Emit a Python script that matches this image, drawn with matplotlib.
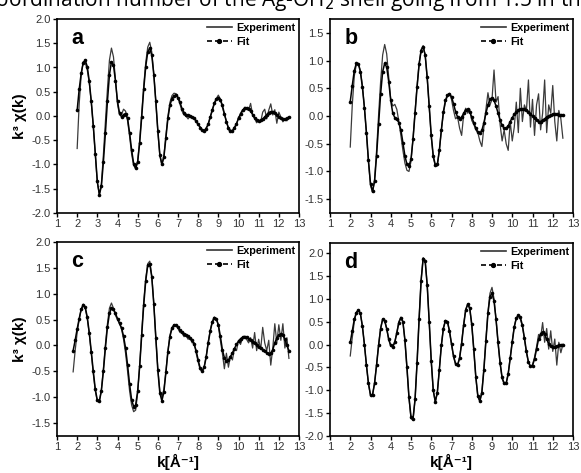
import numpy as np
import matplotlib
matplotlib.use('Agg')
import matplotlib.pyplot as plt
from matplotlib.lines import Line2D

plt.rcParams['font.family'] = ['Liberation Sans', 'DejaVu Sans']
plt.rcParams['axes.unicode_minus'] = False

# ---------------- data (k step 0.1) ----------------
K_STEP = 0.1

a_kstart = 2.0
a_fit = [0.12, 0.55, 0.88, 1.10, 1.15, 1.02, 0.72, 0.30, -0.20, -0.78,
         -1.35, -1.62, -1.45, -0.95, -0.35, 0.30, 0.85, 1.12, 1.05, 0.72,
         0.30, 0.06, -0.02, 0.03, 0.05, -0.05, -0.35, -0.70, -0.98, -1.08,
         -0.95, -0.55, -0.02, 0.55, 1.02, 1.32, 1.40, 1.25, 0.85, 0.30,
         -0.30, -0.80, -1.00, -0.85, -0.45, -0.05, 0.22, 0.36, 0.42, 0.43,
         0.38, 0.28, 0.15, 0.07, 0.03, 0.02, 0.00, -0.02, -0.05, -0.10,
         -0.17, -0.24, -0.29, -0.30, -0.26, -0.16, -0.02, 0.13, 0.26, 0.35,
         0.38, 0.34, 0.22, 0.05, -0.12, -0.24, -0.30, -0.30, -0.25, -0.16,
         -0.05, 0.05, 0.12, 0.16, 0.17, 0.15, 0.10, 0.03, -0.04, -0.08,
         -0.10, -0.09, -0.06, -0.02, 0.03, 0.07, 0.09, 0.09, 0.06, 0.02,
         -0.02, -0.05, -0.07, -0.07, -0.05, -0.03]
a_exp = [-0.67, 0.25, 0.85, 1.12, 1.10, 0.95, 0.68, 0.28, -0.22, -0.80,
         -1.38, -1.62, -1.40, -0.80, -0.12, 0.55, 1.15, 1.40, 1.22, 0.75,
         0.25, 0.02, 0.03, 0.14, 0.10, -0.10, -0.42, -0.78, -1.02, -1.08,
         -0.92, -0.50, 0.05, 0.62, 1.10, 1.42, 1.52, 1.32, 0.88, 0.30,
         -0.32, -0.82, -1.00, -0.82, -0.40, 0.00, 0.28, 0.42, 0.47, 0.46,
         0.38, 0.24, 0.10, 0.02, 0.00, -0.06, 0.01, -0.02, -0.04, -0.12,
         -0.18, -0.22, -0.30, -0.31, -0.24, -0.18, -0.02, 0.10, 0.26, 0.36,
         0.43, 0.35, 0.18, 0.03, -0.10, -0.28, -0.33, -0.32, -0.22, -0.18,
         -0.02, 0.00, 0.10, 0.18, 0.14, 0.12, 0.26, 0.02, -0.05, -0.14,
         -0.08, -0.12, 0.08, 0.14, -0.06, 0.12, 0.25, 0.02, 0.13, -0.15,
         0.08, -0.02, -0.12, -0.06, -0.10, -0.02]

b_kstart = 2.0
b_fit = [0.26, 0.55, 0.82, 0.95, 0.94, 0.80, 0.52, 0.15, -0.30, -0.80,
         -1.22, -1.36, -1.18, -0.72, -0.15, 0.40, 0.80, 0.95, 0.88, 0.62,
         0.28, 0.05, -0.03, -0.06, -0.12, -0.25, -0.48, -0.72, -0.87, -0.90,
         -0.78, -0.42, 0.05, 0.52, 0.93, 1.18, 1.25, 1.10, 0.70, 0.18,
         -0.35, -0.72, -0.88, -0.87, -0.62, -0.25, 0.08, 0.28, 0.38, 0.40,
         0.35, 0.22, 0.08, -0.02, -0.05, -0.02, 0.05, 0.11, 0.12, 0.07,
         -0.02, -0.12, -0.22, -0.29, -0.31, -0.26, -0.12, 0.05, 0.20, 0.30,
         0.32, 0.28, 0.18, 0.05, -0.08, -0.17, -0.22, -0.22, -0.18, -0.10,
         -0.03, 0.03, 0.07, 0.10, 0.12, 0.12, 0.12, 0.11, 0.08, 0.04,
         0.00, -0.04, -0.08, -0.10, -0.10, -0.08, -0.05, -0.02, 0.00, 0.02,
         0.03, 0.03, 0.03, 0.02, 0.02, 0.02]
b_exp = [-0.56, 0.20, 0.72, 0.93, 0.95, 0.82, 0.55, 0.15, -0.32, -0.85,
         -1.25, -1.38, -1.15, -0.62, 0.02, 0.62, 1.10, 1.29, 1.12, 0.70,
         0.30, 0.18, 0.21, 0.12, -0.10, -0.35, -0.62, -0.85, -0.98, -1.00,
         -0.82, -0.40, 0.08, 0.55, 0.95, 1.20, 1.27, 1.10, 0.68, 0.15,
         -0.38, -0.75, -0.90, -0.90, -0.62, -0.25, 0.05, 0.25, 0.36, 0.41,
         0.30, 0.10, -0.05, -0.02, -0.22, -0.35, 0.02, 0.14, 0.05, 0.12,
         -0.08, -0.15, -0.25, -0.30, -0.45, -0.55, -0.20, 0.12, 0.42, 0.20,
         0.30, 0.83, 0.25, 0.35, -0.15, -0.45, -0.25, -0.50, -0.62, -0.10,
         -0.45, -0.20, 0.25, -0.30, 0.50, -0.10, 0.20, 0.10, 0.65, -0.20,
         0.30, -0.35, 0.20, 0.40, -0.25, 0.05, 0.65, -0.30, 0.20, 0.05,
         0.55, -0.10, -0.45, 0.10, -0.05, -0.40]

c_kstart = 1.8
c_fit = [-0.10, 0.10,
         0.32, 0.52, 0.70, 0.78, 0.74, 0.55, 0.25, -0.12, -0.50, -0.85,
         -1.06, -1.08, -0.88, -0.50, -0.05, 0.35, 0.62, 0.72, 0.70, 0.62,
         0.52, 0.43, 0.34, 0.18, -0.05, -0.38, -0.75, -1.05, -1.18, -1.15,
         -0.88, -0.40, 0.20, 0.78, 1.25, 1.55, 1.58, 1.32, 0.80, 0.15,
         -0.48, -0.92, -1.07, -0.90, -0.52, -0.12, 0.17, 0.33, 0.39, 0.39,
         0.35, 0.30, 0.26, 0.23, 0.21, 0.18, 0.15, 0.10, 0.02, -0.10,
         -0.28, -0.44, -0.49, -0.42, -0.22, 0.05, 0.28, 0.45, 0.53, 0.52,
         0.40, 0.18, -0.08, -0.24, -0.30, -0.28, -0.22, -0.14, -0.06, 0.02,
         0.08, 0.13, 0.16, 0.17, 0.16, 0.13, 0.10, 0.07, 0.04, 0.01,
         -0.02, -0.05, -0.08, -0.11, -0.14, -0.16, -0.15, -0.08, 0.05, 0.15,
         0.20, 0.22, 0.20, 0.12, 0.00, -0.10]
c_exp = [-0.51, -0.10,
         0.25, 0.50, 0.70, 0.80, 0.72, 0.52, 0.22, -0.15, -0.55, -0.88,
         -1.08, -1.08, -0.85, -0.45, 0.02, 0.42, 0.72, 0.82, 0.72, 0.58,
         0.50, 0.42, 0.32, 0.12, -0.15, -0.50, -0.88, -1.15, -1.28, -1.25,
         -0.92, -0.38, 0.25, 0.85, 1.30, 1.58, 1.63, 1.35, 0.82, 0.15,
         -0.45, -0.88, -1.00, -0.85, -0.50, -0.10, 0.20, 0.35, 0.40, 0.40,
         0.33, 0.25, 0.24, 0.17, 0.19, 0.12, 0.15, 0.05, 0.06, -0.15,
         -0.32, -0.47, -0.50, -0.40, -0.20, 0.08, 0.30, 0.47, 0.55, 0.52,
         0.38, 0.10, -0.15, -0.45, -0.15, -0.42, -0.20, -0.28, -0.05, -0.10,
         0.10, 0.02, 0.15, 0.18, 0.12, 0.05, 0.15, -0.05, 0.25, -0.10,
         0.12, -0.08, 0.35, 0.05, -0.10, 0.10, -0.38, -0.05, 0.42, 0.05,
         0.40, 0.10, 0.42, -0.05, 0.15, -0.25]

d_kstart = 2.0
d_fit = [0.05, 0.30, 0.55, 0.70, 0.75, 0.68, 0.40, 0.00, -0.45, -0.85,
         -1.10, -1.10, -0.85, -0.45, -0.02, 0.35, 0.55, 0.52, 0.35, 0.12,
         -0.02, -0.05, 0.05, 0.25, 0.48, 0.58, 0.50, 0.10, -0.50, -1.15,
         -1.58, -1.62, -1.20, -0.40, 0.55, 1.40, 1.88, 1.82, 1.30, 0.50,
         -0.35, -1.00, -1.25, -1.05, -0.55, -0.02, 0.35, 0.52, 0.50, 0.30,
         0.02, -0.25, -0.42, -0.45, -0.30, 0.02, 0.42, 0.75, 0.88, 0.80,
         0.45, -0.10, -0.70, -1.12, -1.24, -1.05, -0.55, 0.08, 0.68, 1.05,
         1.12, 0.95, 0.55, 0.05, -0.40, -0.72, -0.85, -0.85, -0.65, -0.30,
         0.05, 0.38, 0.58, 0.64, 0.60, 0.42, 0.15, -0.15, -0.38, -0.48,
         -0.46, -0.32, -0.10, 0.12, 0.24, 0.27, 0.22, 0.12, 0.02, -0.04,
         -0.06, -0.05, -0.03, -0.02, -0.01, 0.00]
d_exp = [-0.25, 0.15, 0.50, 0.70, 0.76, 0.68, 0.40, 0.00, -0.46, -0.87,
         -1.12, -1.10, -0.84, -0.43, 0.00, 0.36, 0.56, 0.52, 0.34, 0.10,
         -0.04, -0.05, 0.06, 0.27, 0.50, 0.60, 0.50, 0.08, -0.52, -1.18,
         -1.62, -1.65, -1.20, -0.38, 0.58, 1.42, 1.90, 1.84, 1.30, 0.48,
         -0.38, -1.02, -1.26, -1.05, -0.54, 0.00, 0.37, 0.53, 0.50, 0.28,
         0.00, -0.27, -0.43, -0.45, -0.28, 0.05, 0.45, 0.77, 0.88, 0.78,
         0.42, -0.12, -0.72, -1.14, -1.24, -1.02, -0.52, 0.12, 0.72, 1.12,
         1.25, 1.00, 0.55, 0.02, -0.42, -0.75, -0.86, -0.84, -0.62, -0.28,
         0.08, 0.40, 0.58, 0.62, 0.55, 0.40, 0.12, -0.18, -0.40, -0.48,
         -0.44, -0.28, -0.05, 0.22, 0.15, 0.48, 0.05, 0.35, -0.10, 0.30,
         -0.15, 0.12, -0.45, 0.05, -0.18, 0.00]

panel_letters = ['a', 'b', 'c', 'd']
x_ticks = list(range(1, 14))
y_ticks = {
    'a': [-2.0, -1.5, -1.0, -0.5, 0.0, 0.5, 1.0, 1.5, 2.0],
    'b': [-1.5, -1.0, -0.5, 0.0, 0.5, 1.0, 1.5],
    'c': [-1.5, -1.0, -0.5, 0.0, 0.5, 1.0, 1.5, 2.0],
    'd': [-2.0, -1.5, -1.0, -0.5, 0.0, 0.5, 1.0, 1.5, 2.0],
}
y_lims = {'a': (-2.0, 2.0), 'b': (-1.75, 1.75), 'c': (-1.75, 2.0), 'd': (-2.0, 2.22)}
legend_labels = ['Experiment', 'Fit']
title_text = 'coordination number of the Ag-OH$_2$ shell going from 1.5 in the'
ylabel_text = 'k³ χ(k)'
xlabel_text = 'k[Å⁻¹]'

series = {
    'a': (a_kstart, a_exp, a_fit),
    'b': (b_kstart, b_exp, b_fit),
    'c': (c_kstart, c_exp, c_fit),
    'd': (d_kstart, d_exp, d_fit),
}

# ---------------- figure ----------------
W, H = 581, 473
fig = plt.figure(figsize=(W / 100, H / 100), dpi=100)

def rect(l, r, t, b):
    return [l / W, 1 - b / H, (r - l) / W, (b - t) / H]

positions = {
    'a': rect(57, 299, 19, 213),
    'b': rect(330, 573, 19, 213),
    'c': rect(57, 299, 242, 436),
    'd': rect(330, 573, 243, 436),
}

handles = [Line2D([], [], color='#333333', lw=1.2),
           Line2D([], [], color='black', lw=1.2, ls=(0, (3, 1.8)),
                  marker='o', ms=2.8, markevery=[1])]

for key in panel_letters:
    ax = fig.add_axes(positions[key])
    k0, ye, yf = series[key]
    ke = np.round(k0 + K_STEP * np.arange(len(ye)), 2)
    kf = np.round(k0 + K_STEP * np.arange(len(yf)), 2)
    ax.plot(ke, ye, color='#3a3a3a', lw=0.9, zorder=2)
    ax.plot(kf, yf, color='black', lw=1.1, marker='o', ms=2.6, mew=0, zorder=3)
    ax.set_xlim(1, 13)
    ax.set_ylim(*y_lims[key])
    ax.set_xticks(x_ticks)
    ax.set_yticks(y_ticks[key])
    ax.set_yticklabels([f'{v:.1f}' for v in y_ticks[key]])
    ax.tick_params(direction='out', length=3, width=1, labelsize=8,
                   labelcolor='#333333', pad=1.5)
    for s in ax.spines.values():
        s.set_linewidth(1.2)
    ax.text(0.06, 0.955, key, transform=ax.transAxes, fontsize=15.5,
            fontweight='bold', va='top', ha='left')
    ax.legend(handles, legend_labels, loc='upper right', frameon=False,
              prop=dict(weight='bold', size=7.8), handlelength=2.3,
              handletextpad=0.4, labelspacing=0.35, borderaxespad=0.25,
              borderpad=0.1)
    if key in ('a', 'c'):
        ax.set_ylabel(ylabel_text, fontsize=11, fontweight='bold', labelpad=3)
    if key in ('c', 'd'):
        ax.set_xlabel(xlabel_text, fontsize=11, fontweight='bold', labelpad=1)

fig.text(-14 / W, 1 - 6 / H, title_text, fontsize=15, family='Open Sans',
         va='baseline', ha='left', color='black')

fig.savefig('out.png', dpi=100)
